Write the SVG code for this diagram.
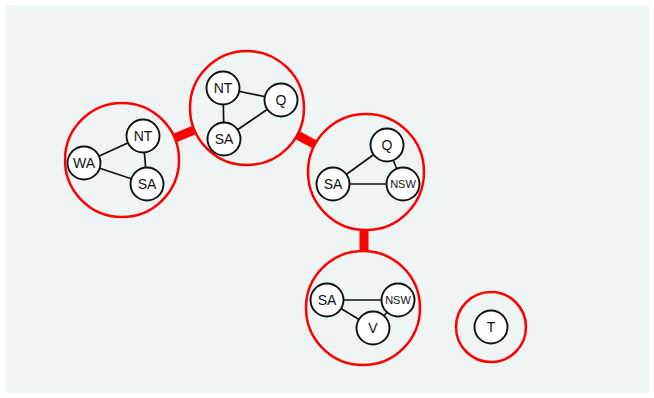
<svg xmlns="http://www.w3.org/2000/svg" width="654" height="398" viewBox="0 0 654 398">
  <style>
    .bag { fill: #eff4f5; stroke: #ff0000; stroke-width: 2.5; }
    .sep { stroke: #ff0000; stroke-width: 9; fill: none; }
    .edge { stroke: #111; stroke-width: 1.7; }
    .var { fill: #ffffff; stroke: #111; stroke-width: 1.9; }
    .lbl { font-family: "Liberation Sans", Arial, sans-serif; font-size: 14px; fill: #111; text-anchor: middle; dominant-baseline: central; }
    .small { font-size: 11px; }
  </style>
  <rect x="0" y="0" width="654" height="398" fill="#ffffff"/>
  <rect x="5" y="5" width="644" height="388" fill="#eff4f5"/>

  <!-- separator links between cliques (bags cover the inner part) -->
  <g id="connectors">
    <line class="sep" x1="122" y1="160" x2="247" y2="108"/>
    <line class="sep" x1="247" y1="108" x2="366" y2="172"/>
    <line class="sep" x1="364" y1="172" x2="364" y2="308"/>
  </g>

  <!-- bag 1: WA, NT, SA -->
  <g id="bag1">
    <circle class="bag" cx="122" cy="160" r="57"/>
    <line class="edge" x1="84" y1="163" x2="143" y2="136"/>
    <line class="edge" x1="84" y1="163" x2="147" y2="184"/>
    <line class="edge" x1="143" y1="136" x2="147" y2="184"/>
    <circle class="var" cx="84" cy="163" r="16.5"/>
    <text class="lbl" x="84" y="163">WA</text>
    <circle class="var" cx="143" cy="136" r="16.5"/>
    <text class="lbl" x="143" y="136">NT</text>
    <circle class="var" cx="147" cy="184" r="16.5"/>
    <text class="lbl" x="147" y="184">SA</text>
  </g>

  <!-- bag 2: NT, Q, SA -->
  <g id="bag2">
    <circle class="bag" cx="247" cy="108" r="57"/>
    <line class="edge" x1="223" y1="88" x2="281" y2="100"/>
    <line class="edge" x1="223" y1="88" x2="224" y2="139"/>
    <line class="edge" x1="281" y1="100" x2="224" y2="139"/>
    <circle class="var" cx="223" cy="88" r="16.5"/>
    <text class="lbl" x="223" y="88">NT</text>
    <circle class="var" cx="281" cy="100" r="16.5"/>
    <text class="lbl" x="281" y="100">Q</text>
    <circle class="var" cx="224" cy="139" r="16.5"/>
    <text class="lbl" x="224" y="139">SA</text>
  </g>

  <!-- bag 3: Q, SA, NSW -->
  <g id="bag3">
    <circle class="bag" cx="366" cy="172" r="58"/>
    <line class="edge" x1="387" y1="145" x2="333" y2="184"/>
    <line class="edge" x1="387" y1="145" x2="403" y2="184"/>
    <line class="edge" x1="333" y1="184" x2="403" y2="184"/>
    <circle class="var" cx="387" cy="145" r="16.5"/>
    <text class="lbl" x="387" y="145">Q</text>
    <circle class="var" cx="333" cy="184" r="16.5"/>
    <text class="lbl" x="333" y="184">SA</text>
    <circle class="var" cx="403" cy="184" r="16.5"/>
    <text class="lbl small" x="403" y="184">NSW</text>
  </g>

  <!-- bag 4: SA, NSW, V -->
  <g id="bag4">
    <circle class="bag" cx="363" cy="308" r="57"/>
    <line class="edge" x1="327" y1="300" x2="398" y2="300"/>
    <line class="edge" x1="327" y1="300" x2="373" y2="328"/>
    <line class="edge" x1="398" y1="300" x2="373" y2="328"/>
    <circle class="var" cx="327" cy="300" r="16.5"/>
    <text class="lbl" x="327" y="300">SA</text>
    <circle class="var" cx="398" cy="300" r="16.5"/>
    <text class="lbl small" x="398" y="300">NSW</text>
    <circle class="var" cx="373" cy="328" r="16.5"/>
    <text class="lbl" x="373" y="328">V</text>
  </g>

  <!-- bag 5: T -->
  <g id="bag5">
    <circle class="bag" cx="491" cy="327" r="35"/>
    <circle class="var" cx="491" cy="327" r="16.5"/>
    <text class="lbl" x="491" y="327">T</text>
  </g>
</svg>
